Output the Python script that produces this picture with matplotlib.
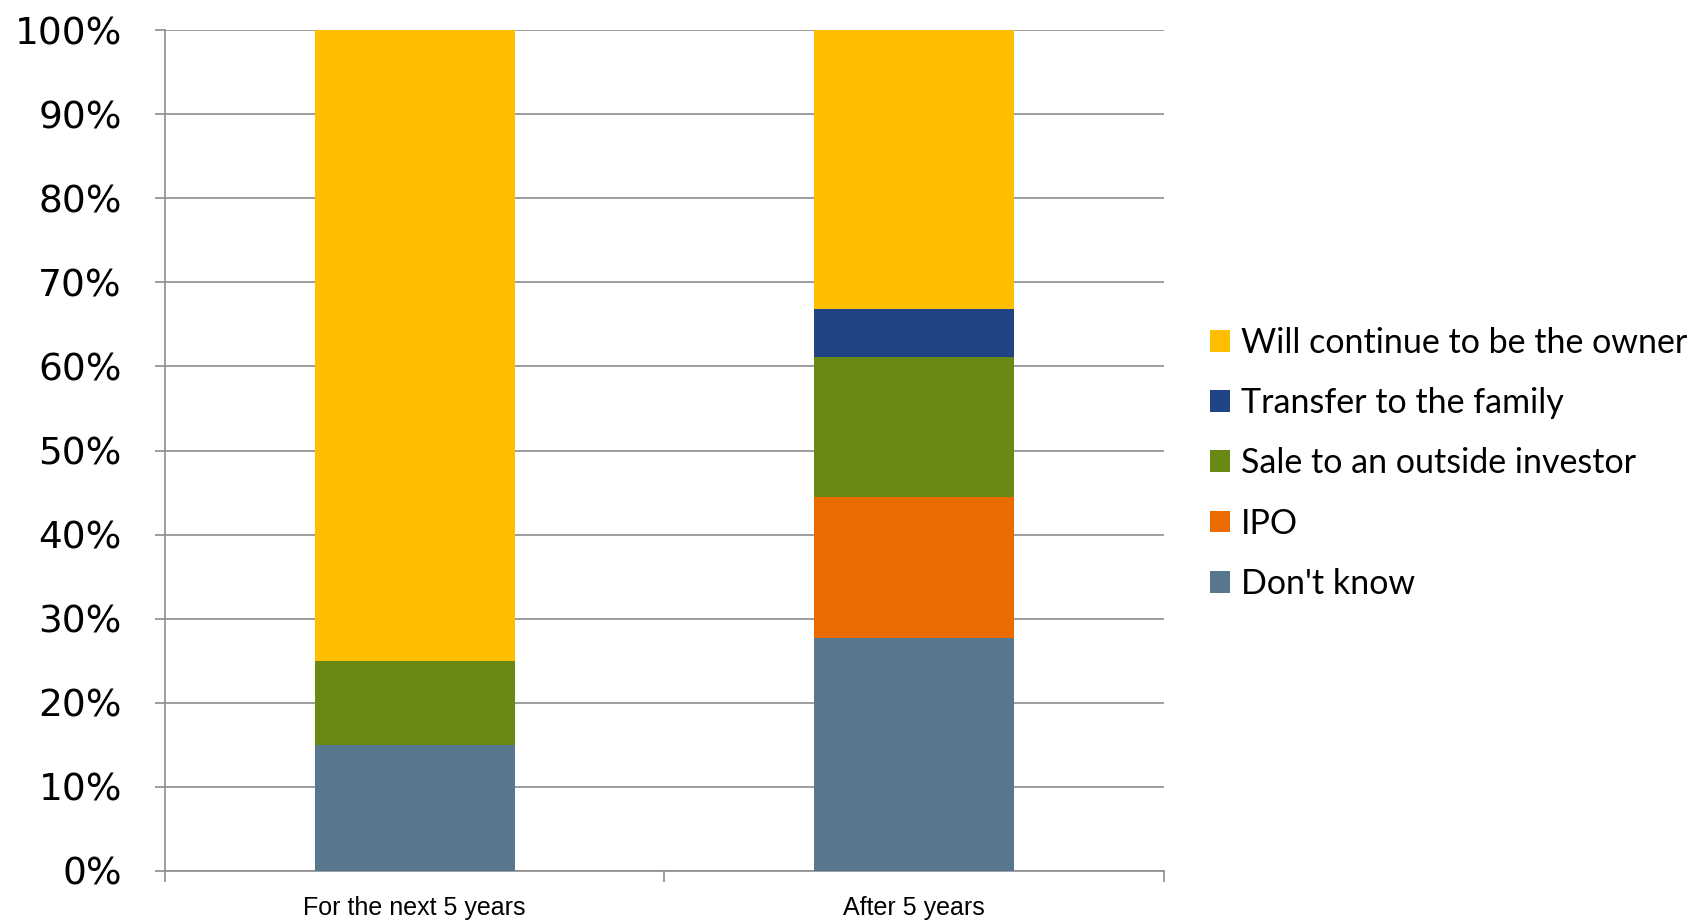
import matplotlib.pyplot as plt
import numpy as np
from matplotlib.ticker import FixedLocator, PercentFormatter

# values (percent)
categories = ["For the next 5 years", "After 5 years"]
series_names = ["Don't know", "IPO", "Sale to an outside investor",
                "Transfer to the family", "Will continue to be the owner"]
dont_know = [15.0, 27.7]
ipo = [0.0, 16.8]
sale = [10.0, 16.6]
family = [0.0, 5.7]
owner = [75.0, 33.2]
colors = ["#57778F", "#EA6B00", "#688913", "#1E4486", "#FFBF00"]

fig = plt.figure(figsize=(16.99, 9.21), dpi=100)
ax = fig.add_axes([0.0971, 0.0543, 0.5880, 0.9131])

x = np.arange(len(categories))
bottom = np.zeros(len(categories))
handles = []
for name, vals, col in zip(series_names, [dont_know, ipo, sale, family, owner], colors):
    h = ax.bar(x, vals, width=0.4, bottom=bottom, color=col, label=name, zorder=3)
    handles.append(h)
    bottom += np.array(vals)

grey = "#8C8C8C"
ax.set_xlim(-0.5, 1.5)
ax.set_ylim(0, 100)
ax.set_yticks(np.arange(0, 101, 10))
ax.yaxis.set_major_formatter(PercentFormatter(decimals=0))
ax.grid(axis="y", color=grey, linewidth=1.2, zorder=0)
ax.set_xticks(x)
ax.set_xticklabels(categories, family=["Liberation Sans Narrow", "Liberation Sans"], fontsize=18)
ax.xaxis.set_minor_locator(FixedLocator([-0.5, 0.5, 1.5]))
ax.tick_params(axis="x", which="major", length=0, pad=18)
ax.tick_params(axis="x", which="minor", length=8, width=1.2, color=grey)
ax.tick_params(axis="y", length=7, width=1.2, color=grey, labelsize=27, pad=24)
for s in ["top", "right"]:
    ax.spines[s].set_visible(False)
for s in ["left", "bottom"]:
    ax.spines[s].set_color(grey)
    ax.spines[s].set_linewidth(1.2)

fig.legend(handles[::-1], series_names[::-1], loc="center left",
           bbox_to_anchor=(1210 / 1699, 0.497), frameon=False, borderpad=0,
           borderaxespad=0, prop={"family": ["Lato", "DejaVu Sans"], "size": 24.5},
           handlelength=0.6, handleheight=0.6, handletextpad=0.3, labelspacing=0.83)

fig.savefig("out.png", dpi=100)
